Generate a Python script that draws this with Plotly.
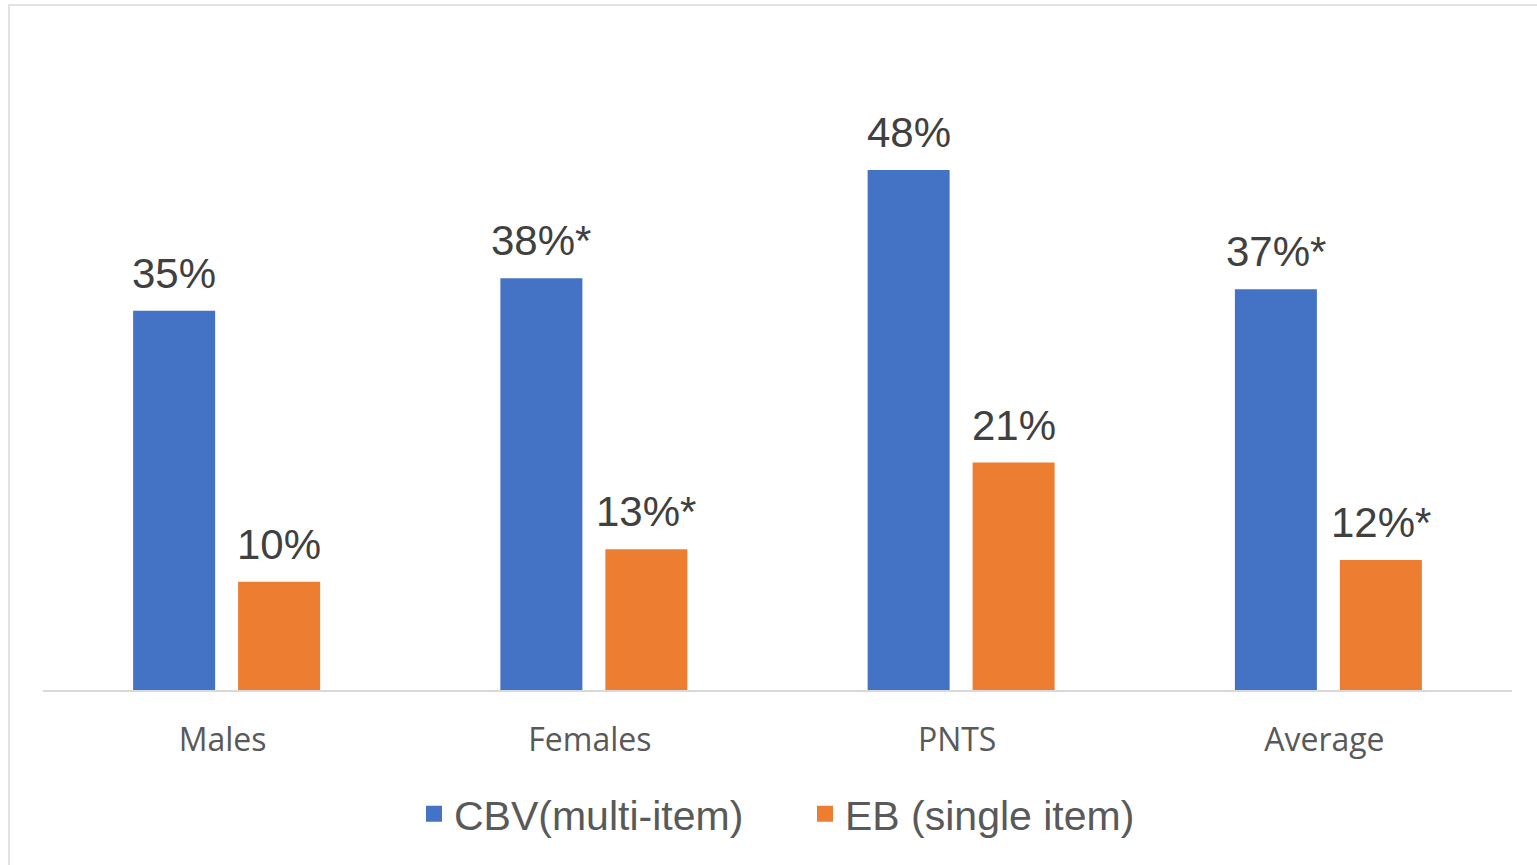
import plotly.graph_objects as go

categories = ["Males", "Females", "PNTS", "Average"]
cbv_values = [35, 38, 48, 37]
eb_values = [10, 13, 21, 12]
cbv_labels = ["35%", "38%*", "48%", "37%*"]
eb_labels = ["10%", "13%*", "21%", "12%*"]
series_names = ["CBV(multi-item)", "EB (single item)"]
colors = ["#4472C4", "#ED7D31"]

W, H = 1537, 865
ML, MR, MT, MB = 43, 25, 40, 175
PW, PH = W - ML - MR, H - MT - MB

fig = go.Figure()
series = [(cbv_values, cbv_labels), (eb_values, eb_labels)]
for i, (vals, labs) in enumerate(series):
    fig.add_trace(go.Bar(x=categories, y=vals, marker_color=colors[i],
                         marker_line_width=0, showlegend=False, name=series_names[i]))
    # legend proxy with larger square symbol
    fig.add_trace(go.Scatter(x=[None], y=[None], mode="markers", name=series_names[i],
                             marker=dict(symbol="square", size=20, color=colors[i]),
                             legend="legend" if i == 0 else "legend2"))

slot = PW / len(categories) * (1 - 0.4282) / 2
annotations = []
for i, (vals, labs) in enumerate(series):
    shift = -slot / 2 if i == 0 else slot / 2
    for c, v, t in zip(categories, vals, labs):
        annotations.append(dict(x=c, y=v, text=t, showarrow=False, xshift=shift,
                                yanchor="bottom", yshift=12,
                                font=dict(family="Liberation Sans, Arial", size=42, color="#404040")))

def px_x(p):
    return (p - ML) / PW

def px_y(p):
    return (H - MB - p) / PH

legend_font = dict(family="Liberation Sans, Arial", size=41, color="#595959")
fig.update_layout(
    width=W, height=H,
    margin=dict(l=ML, r=MR, t=MT, b=MB),
    paper_bgcolor="white", plot_bgcolor="white",
    barmode="group", bargap=0.4282, bargroupgap=0.219,
    annotations=annotations,
    legend=dict(orientation="h", x=px_x(414), xanchor="left", y=px_y(814), yanchor="middle",
                font=legend_font, itemsizing="trace", bgcolor="rgba(0,0,0,0)"),
    legend2=dict(orientation="h", x=px_x(805), xanchor="left", y=px_y(814), yanchor="middle",
                 font=legend_font, itemsizing="trace", bgcolor="rgba(0,0,0,0)"),
    xaxis=dict(showline=True, linecolor="#D9D9D9", linewidth=2, ticks="",
               tickfont=dict(family="Open Sans", size=32, color="#595959"),
               ticklabelstandoff=21, ticklabelshift=-4, showgrid=False, zeroline=False),
    yaxis=dict(range=[0, 60], visible=False, showgrid=False, zeroline=False),
    shapes=[dict(type="rect", xref="paper", yref="paper",
                 x0=px_x(9), x1=px_x(1545), y0=px_y(872), y1=px_y(5),
                 line=dict(color="#D9D9D9", width=1.5), fillcolor="rgba(0,0,0,0)", layer="below")],
)

fig.write_html("out.html")
